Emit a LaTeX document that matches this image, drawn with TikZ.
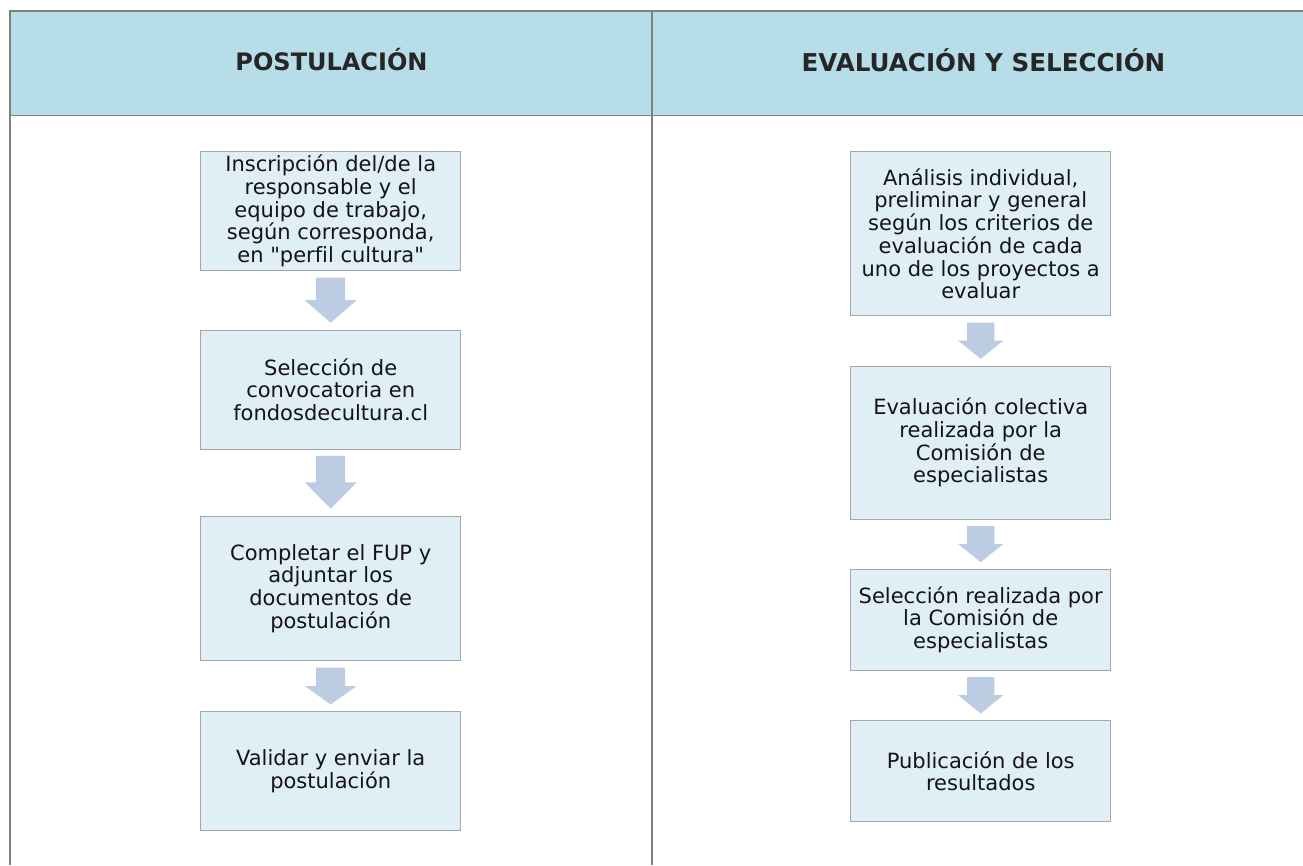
\documentclass[tikz,border=0pt]{standalone}
\usepackage{fontspec}
\setmainfont{DejaVu Sans}[Ligatures=NoCommon]
\newfontfamily\plainqfont{DejaVu Sans}
\usetikzlibrary{calc}
\definecolor{headfill}{HTML}{B7DDE8}
\definecolor{boxfill}{HTML}{E0EEF6}
\definecolor{boxline}{HTML}{A6A6A6}
\definecolor{arrowfill}{HTML}{BCCCE3}
\definecolor{gridline}{HTML}{808080}
\definecolor{txt}{HTML}{141414}
\definecolor{headtxt}{HTML}{262626}
\newcommand\dq{{\plainqfont"}}
\tikzset{
  stepbox/.style={draw=boxline, fill=boxfill, line width=0.9pt, align=center,
    inner sep=0pt, minimum width=260pt, text=txt,
    font=\fontsize{21}{22.7}\selectfont},
  headtext/.style={text=headtxt, font=\bfseries\fontsize{24}{28}\selectfont, inner sep=0pt},
  grid/.style={draw=gridline, line width=1.3pt}
}
% #1 from node, #2 to node, #3 shaft half width, #4 head half width
\newcommand\blockarr[4]{%
  \fill[arrowfill] let \p1=(#1.south), \p2=(#2.north),
    \n1={\y1-6.5pt}, \n2={\y2+6.8pt}, \n3={(\n1+\n2)/2} in
    ({\x1-#3pt},\n1) -- ({\x1+#3pt},\n1) -- ({\x1+#3pt},\n3) -- ({\x1+#4pt},\n3)
    -- (\x1,\n2) -- ({\x1-#4pt},\n3) -- ({\x1-#3pt},\n3) -- cycle;}
\begin{document}
\begin{tikzpicture}[x=1pt,y=-1pt]
\useasboundingbox (0,0) rectangle (1303,865);
\fill[white] (0,0) rectangle (1303,865);
% table
\fill[headfill] (10,11) rectangle (1303,115.7);
\draw[grid] (1303,11) -- (10,11) -- (10,865);
\draw[grid] (10,115.7) -- (1303,115.7);
\draw[grid] (652,11) -- (652,865);
\node[headtext] (h1) at (331.5,60) {POSTULACIÓN};
\node[headtext] (h2) at (983.5,60) {\fontsize{24.6}{28}\selectfont EVALUACIÓN Y SELECCIÓN};
% left column
\node[stepbox, minimum height=119.5pt] (l1) at (330.7,210.8)
  {Inscripción del/de la\\responsable y el\\equipo de trabajo,\\según corresponda,\\en \dq perfil cultura\dq};
\node[stepbox, minimum height=119pt] (l2) at (330.7,389.5)
  {Selección de\\convocatoria en\\fondosdecultura.cl};
\node[stepbox, minimum height=144.7pt] (l3) at (330.7,588.3)
  {Completar el FUP y\\adjuntar los\\documentos de\\postulación};
\node[stepbox, minimum height=119pt] (l4) at (330.7,771.2)
  {Validar y enviar la\\postulación};
% right column
\node[stepbox, minimum height=164pt] (r1) at (980.7,233.7)
  {Análisis individual,\\preliminar y general\\según los criterios de\\evaluación de cada\\uno de los proyectos a\\evaluar};
\node[stepbox, minimum height=153pt] (r2) at (980.7,442.5)
  {Evaluación colectiva\\realizada por la\\Comisión de\\especialistas};
\node[stepbox, minimum height=100.7pt] (r3) at (980.7,619.7)
  {Selección realizada por\\la Comisión de\\especialistas};
\node[stepbox, minimum height=101pt] (r4) at (980.7,771.2)
  {Publicación de los\\resultados};
% arrows
\blockarr{l1}{l2}{14.5}{26}
\blockarr{l2}{l3}{14.5}{26}
\blockarr{l3}{l4}{14.5}{26}
\blockarr{r1}{r2}{13.7}{22.5}
\blockarr{r2}{r3}{13.7}{22.5}
\blockarr{r3}{r4}{13.7}{22.5}
\end{tikzpicture}
\end{document}
